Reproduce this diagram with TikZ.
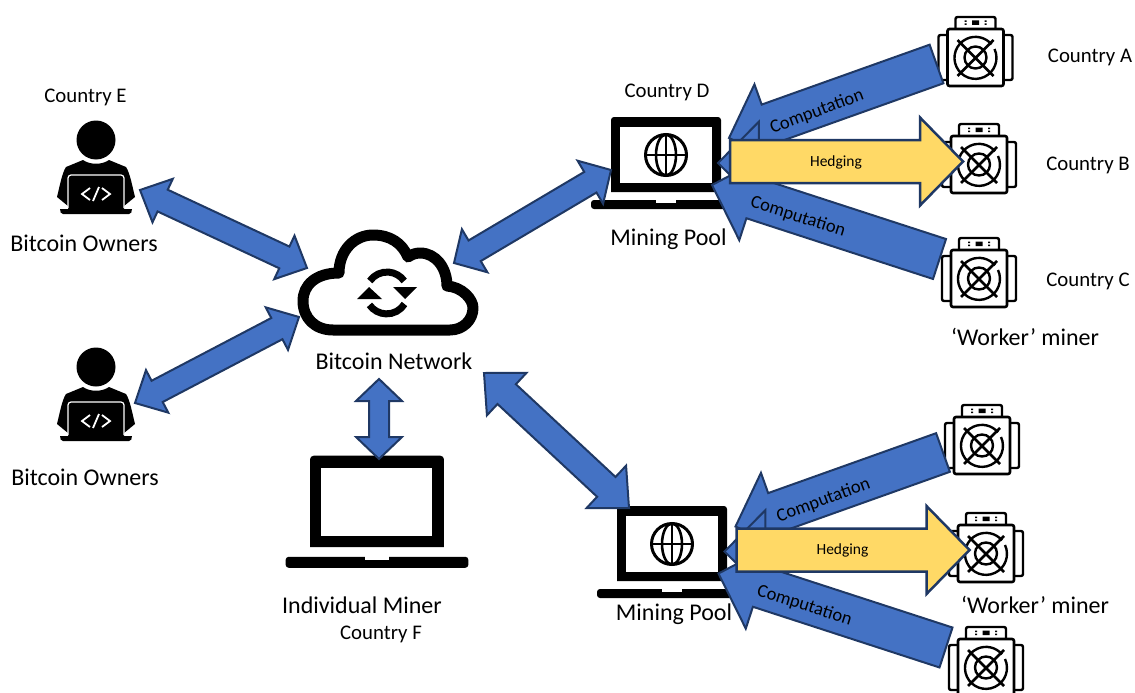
\documentclass[tikz,border=0pt]{standalone}
\usepackage{fontspec}
\setmainfont{Carlito}
\usetikzlibrary{calc}

\definecolor{arrowblue}{HTML}{4472C4}
\definecolor{arrowedge}{HTML}{1F3864}
\definecolor{hedgeyellow}{HTML}{FFD966}

\tikzset{
	blockarrow/.style={draw=arrowedge, fill=arrowblue, line width=2pt, line join=miter},
	hedgearrow/.style={draw=arrowedge, fill=hedgeyellow, line width=2.5pt, line join=miter},
	big/.style={font=\fontsize{24}{26}\selectfont, inner sep=0pt},
	country/.style={font=\fontsize{20.8}{23}\selectfont, inner sep=0pt},
	comp/.style={font=\fontsize{18.5}{20}\selectfont, inner sep=0pt},
	hedge/.style={font=\fontsize{15.5}{17}\selectfont, inner sep=0pt},
	spot/.style={inner sep=0pt, minimum size=1pt},
	laptop/.pic={
		\fill (-55,37) -- (-55,-35) arc [start angle=180, end angle=90, radius=3pt] -- (52,-38) arc [start angle=90, end angle=0, radius=3pt] -- (55,37) -- cycle;
		\fill[white] (-46,-28) rectangle (45.5,28);
		\fill[rounded corners=3pt] (-75,45) -- (-75,54) -- (75,54) -- (75,45) -- cycle;
		\fill[white] (-10,44.5) rectangle (10,48);
	},
	globe/.pic={
		\draw[line width=3pt] (0,0) circle [radius=20.5pt];
		\draw[line width=2.6pt] (0,0) ellipse [x radius=10pt, y radius=20.5pt];
		\draw[line width=2.6pt] (-20,0) -- (20,0) (0,-20) -- (0,20);
	},
	miner/.pic={
		\draw[fill=white, line width=2.4pt, rounded corners=2pt] (-37,-22) rectangle (37,23);
		\draw[fill=white, line width=2.4pt, rounded corners=2pt] (-20,-28) -- (-20,-40) -- (20,-40) -- (20,-28);
		\draw[fill=white, line width=2.6pt, rounded corners=2pt] (-28,-28) rectangle (28,29);
		\fill (-3.5,-36.5) rectangle (3.5,-32) (-11,-36.5) rectangle (-9,-35) (-11,-33.5) rectangle (-9,-32) (9,-36.5) rectangle (11,-35) (9,-33.5) rectangle (11,-32);
		\draw[line width=2.4pt] (19,-8) arc [start angle=25, end angle=-320, radius=21pt];
		\draw[line width=2.4pt] (0,0.5) circle [radius=11pt];
		\draw[line width=2.6pt] (-18,-17) -- (18,19) (18,-17) -- (-18,19);
	},
	person/.pic={
		\fill (0,0) circle [radius=19.5pt];
		\fill (-13,20) .. controls (-6,25) and (6,25) .. (13,20) -- (30,27) .. controls (34,33) and (36,45) .. (39,57)
			-- (28,66) -- (28,69) -- (36,69) .. controls (36,72) and (35,74) .. (33,74) -- (-33,74) .. controls (-35,74) and (-36,72) .. (-36,69)
			-- (-28,69) -- (-28,66) -- (-39,57) .. controls (-36,45) and (-34,33) .. (-30,27) -- cycle;
		\draw[white, line width=1.2pt, rounded corners=3pt] (-28,68) -- (-28,35) -- (28,35) -- (28,68);
		\draw[white, line width=1.8pt] (-6,48) -- (-14,54) -- (-6,60) (6,48) -- (14,54) -- (6,60) (3,47) -- (-3,61);
	},
}

\newcommand{\singlearrow}[6][blockarrow]{
	\coordinate (hb) at ($(#3)!#6pt!(#2)$);
	\draw[#1] ($(#2)!#4pt!90:(#3)$) -- ($(hb)!#4pt!-90:(#2)$) -- ($(hb)!#5pt!-90:(#2)$) -- (#3)
		-- ($(hb)!#5pt!90:(#2)$) -- ($(hb)!#4pt!90:(#2)$) -- ($(#2)!#4pt!-90:(#3)$) -- cycle;
}
\newcommand{\doublearrow}[5]{
	\coordinate (ha) at ($(#1)!#5pt!(#2)$);
	\coordinate (hb) at ($(#2)!#5pt!(#1)$);
	\draw[blockarrow] (#1) -- ($(ha)!#4pt!90:(#2)$) -- ($(ha)!#3pt!90:(#2)$) -- ($(hb)!#3pt!-90:(#1)$) -- ($(hb)!#4pt!-90:(#1)$) -- (#2)
		-- ($(hb)!#4pt!90:(#1)$) -- ($(hb)!#3pt!90:(#1)$) -- ($(ha)!#3pt!-90:(#2)$) -- ($(ha)!#4pt!-90:(#2)$) -- cycle;
}

\begin{document}
\begin{tikzpicture}[x=1pt, y=-1pt]
	\useasboundingbox (0,0) rectangle (1135,693);
	\clip (0,0) rectangle (1135,693);

	% icons
	\foreach \name/\x/\y in {ownerE/96/140, ownerW/96/367} {
		\node[spot] (\name) at (\x,\y) {};
		\pic at (\name) {person};
	}
	\foreach \name/\x/\y in {poolD/666/155, poolS/672/544} {
		\node[spot] (\name) at (\x,\y) {};
		\pic at (\name) {laptop};
		\pic at (\name) {globe};
	}
	\node[spot] (single) at (377,502) {};
	\pic[scale=1.218] at (single) {laptop};
	\foreach \name/\x/\y in {minerA/975.5/57, minerB/979/164, minerC/979/278, minerG/982/445, minerH/986/553, minerI/986/667} {
		\node[spot] (\name) at (\x,\y) {};
		\pic at (\name) {miner};
	}

	% cloud
	\node[spot] (cloud) at (388,283) {};
	\draw[line width=11pt, line join=round] (333,330) .. controls (315,330) and (303,318) .. (303,301)
		.. controls (303,285) and (316,273) .. (339,273) .. controls (339,250) and (355,235) .. (373,235)
		.. controls (390,235) and (402,243) .. (408,257) .. controls (412,254) and (417,253) .. (420,253)
		.. controls (436,253) and (447,268) .. (447,286) .. controls (462,287) and (473,299) .. (473,308)
		.. controls (473,320) and (463,330) .. (450,330) -- cycle;
	\draw[line width=7pt] (369.8,281) arc [start angle=145, end angle=35, radius=21pt];
	\fill (393,287) -- (417,287) -- (405,299) -- cycle;
	\draw[line width=7pt] (404.5,304) arc [start angle=-32, end angle=-145, radius=21pt];
	\fill (357,299) -- (382,299) -- (369,287) -- cycle;

	% double arrows
	\coordinate (ownerEend) at (140,190);
	\coordinate (cloudNW) at (307,268);
	\coordinate (ownerWend) at (135,403);
	\coordinate (cloudSW) at (299,317);
	\coordinate (cloudE) at (454,263);
	\coordinate (poolDend) at (611,170);
	\coordinate (cloudSE) at (484,373);
	\coordinate (poolSend) at (629,508);
	\coordinate (cloudS) at (379,379);
	\coordinate (singleend) at (379,459);
	\doublearrow{ownerEend}{cloudNW}{12}{24}{25}
	\doublearrow{ownerWend}{cloudSW}{12}{24}{25}
	\doublearrow{cloudE}{poolDend}{12}{25}{24}
	\doublearrow{cloudSE}{poolSend}{13.5}{29}{31}
	\doublearrow{cloudS}{singleend}{10}{23}{22}

	% flows of the two pools
	\foreach \dx/\dy in {0/0, 6.5/388.5} {
		\begin{scope}[shift={(\dx,\dy)}]
			\coordinate (tailup) at (936.5,64);
			\coordinate (tipup) at (729,138);
			\coordinate (tailmid) at (900,162);
			\coordinate (tipmid) at (718,163);
			\coordinate (taillow) at (939.5,259);
			\coordinate (tiplow) at (712,185);
			\coordinate (tailhedge) at (730,161.5);
			\coordinate (tiphedge) at (963,161.5);
			\singlearrow{tailup}{tipup}{20.5}{42}{42}
			\singlearrow{tailmid}{tipmid}{20}{41}{41}
			\singlearrow{taillow}{tiplow}{21}{44}{43}
			\singlearrow[hedgearrow]{tailhedge}{tiphedge}{21.5}{44}{43}
			\node[comp, rotate=20.5] (compup) at (817,112) {Computation};
			\node[comp, rotate=-17.5] (complow) at (798,217) {Computation};
			\node[hedge] (hedgelabel) at (836,162) {Hedging};
		\end{scope}
	}

	% labels
	\node[country] (labelE) at (85.5,97) {Country E};
	\node[big] (ownersE) at (84,243) {Bitcoin Owners};
	\node[big] (ownersW) at (85,477) {Bitcoin Owners};
	\node[big] (network) at (394,361) {Bitcoin Network};
	\node[country] (labelD) at (667,92) {Country D};
	\node[big] (poolnameD) at (668.5,239) {Mining Pool};
	\node[big] (poolnameS) at (674,614) {Mining Pool};
	\node[country] (labelA) at (1090,57) {Country A};
	\node[country] (labelB) at (1088,165) {Country B};
	\node[country] (labelC) at (1088,281) {Country C};
	\node[big] (workerup) at (1025,337) {‘Worker’ miner};
	\node[big] (workerlow) at (1035,605) {‘Worker’ miner};
	\node[big] (individual) at (362,605) {Individual Miner};
	\node[country] (labelF) at (381,634) {Country F};
\end{tikzpicture}
\end{document}
